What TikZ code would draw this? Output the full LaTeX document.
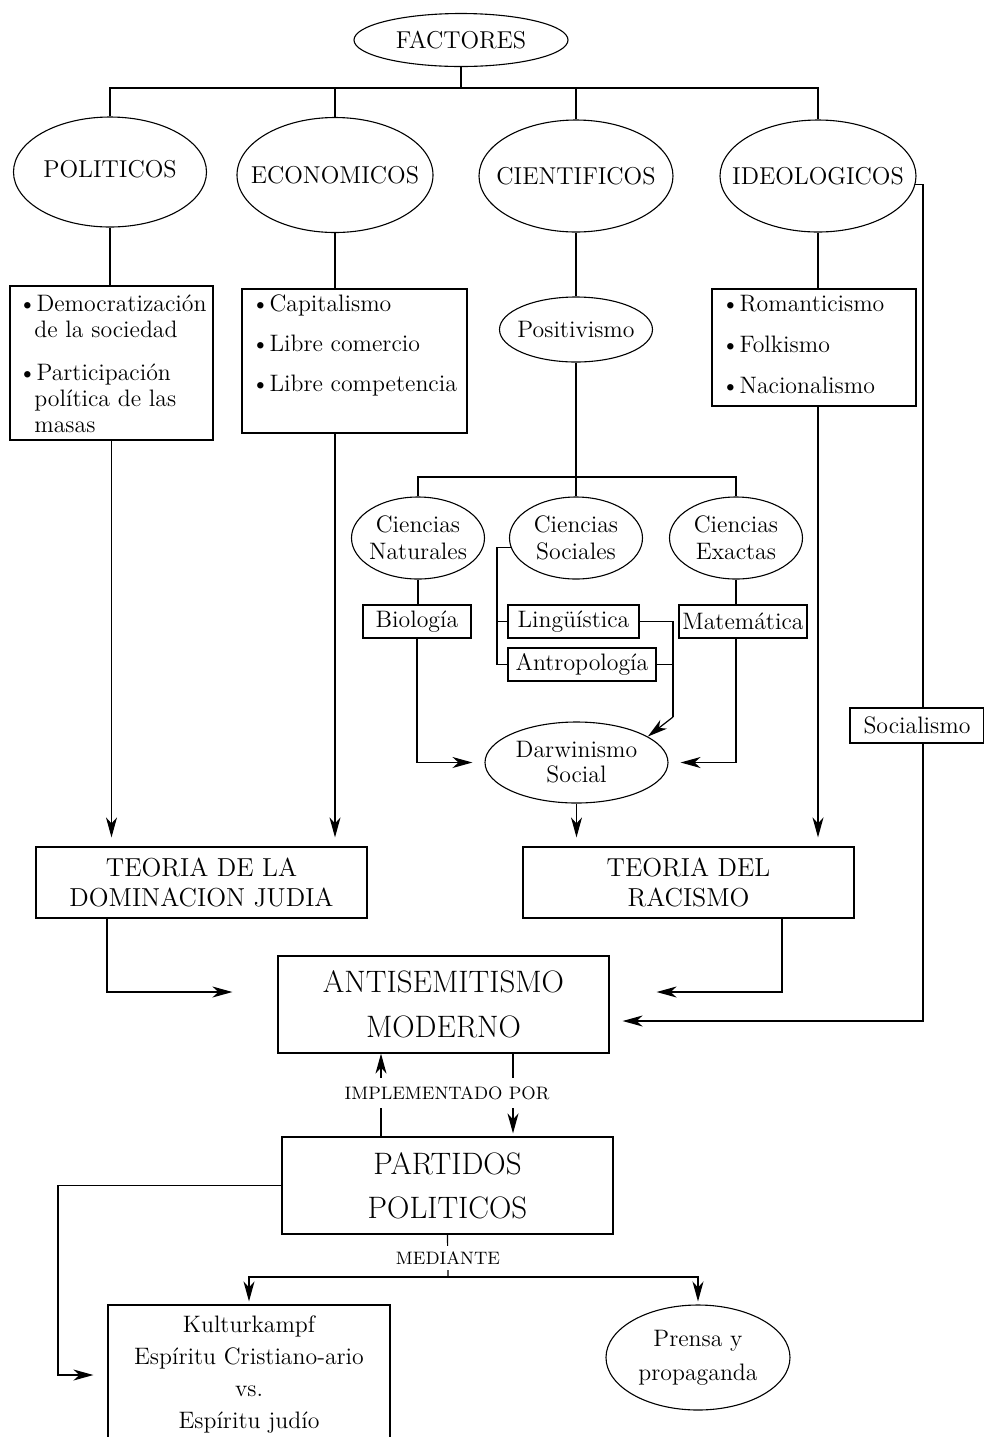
\documentclass[tikz,border=0pt]{standalone}
\usepackage{fontspec}
\usetikzlibrary{shapes.geometric,arrows.meta}
\begin{document}
\begin{tikzpicture}[x=0.5pt,y=-0.5pt,
  every node/.style={font=\fontsize{11.9}{13.5}\selectfont, inner sep=0pt},
  ell/.style={draw, ellipse, line width=0.55pt},
  etx/.style={align=center},
  bx/.style={draw, rectangle, line width=0.6pt, align=center},
  ttl/.style={font=\fontsize{12.2}{14}\selectfont},
  ln/.style={line width=0.6pt},
  arr/.style={-{Stealth[length=10pt,width=5.5pt,inset=3pt]}},
  lbl/.style={fill=white, font=\fontsize{9}{10}\selectfont, inner xsep=2pt, inner ysep=4pt},
  lst/.style={anchor=west, align=left}]
\useasboundingbox (0,0) rectangle (984,1437);
% top level
\node[ell, minimum width=107pt, minimum height=26.5pt] (fact) at (461,40) {};
\node[etx, ttl] (factt) at (fact) {FACTORES};
\node[ell, minimum width=96.5pt, minimum height=55pt] (pol) at (110,172) {};
\node[etx, ttl] (polt) at (110,169) {POLITICOS};
\node[ell, minimum width=98pt, minimum height=57.5pt] (eco) at (335,175) {};
\node[etx, ttl] (ecot) at (eco) {ECONOMICOS};
\node[ell, minimum width=97pt, minimum height=56pt] (cie) at (576,176) {};
\node[etx, ttl] (ciet) at (cie) {CIENTIFICOS};
\node[ell, minimum width=98pt, minimum height=56pt] (ide) at (818,176) {};
\node[etx, ttl] (idet) at (ide) {IDEOLOGICOS};
\coordinate (cbar) at (0,88);
\draw[ln] (fact.south) -- (fact.south |- cbar);
\draw[ln] (pol.north) -- (pol.north |- cbar) -- (ide.north |- cbar) -- (ide.north);
\draw[ln] (eco.north) -- (eco.north |- cbar);
\draw[ln] (cie.north) -- (cie.north |- cbar);
% boxes
\node[bx, minimum width=101.5pt, minimum height=77pt] (polbox) at (111.5,363) {};
\node[lst, font=\fontsize{11.9}{13}\selectfont] (poltx) at (18,364) {•Democratización\\\hspace*{8pt}de la sociedad\\[8.5pt]•Participación\\\hspace*{8pt}política de las\\\hspace*{8pt}masas};
\node[bx, minimum width=112.5pt, minimum height=72pt] (ecobox) at (354.5,361) {};
\node[lst, font=\fontsize{11.9}{20}\selectfont] (ecotx) at (251,345) {•Capitalismo\\•Libre comercio\\•Libre competencia};
\node[bx, minimum width=102pt, minimum height=58.5pt] (ideobox) at (814,347.5) {};
\node[lst, font=\fontsize{11.9}{20.5}\selectfont] (ideotx) at (721,344) {•Romanticismo\\•Folkismo\\•Nacionalismo};
\draw[ln] (pol.south) -- (pol.south |- polbox.north);
\draw[ln] (eco.south) -- (eco.south |- ecobox.north);
\draw[ln] (ide.south) -- (ide.south |- ideobox.north);
% sciences
\node[ell, minimum width=76.5pt, minimum height=32.5pt] (pos) at (576,329.5) {};
\node[etx] (post) at (pos) {Positivismo};
\draw[ln] (cie.south) -- (pos.north);
\node[ell, minimum width=66.5pt, minimum height=41pt] (nat) at (418,538) {};
\node[etx] (natt) at (nat) {Ciencias\\Naturales};
\node[ell, minimum width=66.5pt, minimum height=41pt] (soc) at (576,538) {};
\node[etx] (soct) at (soc) {Ciencias\\Sociales};
\node[ell, minimum width=66.5pt, minimum height=41pt] (exa) at (736,538) {};
\node[etx] (exat) at (exa) {Ciencias\\Exactas};
\coordinate (cb) at (0,477);
\draw[ln] (pos.south) -- (soc.north);
\draw[ln] (nat.north) -- (nat.north |- cb) -- (exa.north |- cb) -- (exa.north);
\node[bx, minimum width=54pt, minimum height=16.5pt] (bio) at (417,621.5) {Biología};
\node[bx, minimum width=65.5pt, minimum height=16.5pt] (ling) at (573.5,621.5) {Lingüística};
\node[bx, minimum width=74pt, minimum height=16.5pt] (antro) at (582,664.5) {Antropología};
\node[bx, minimum width=64pt, minimum height=16.5pt] (mate) at (743,621.5) {Matemática};
\draw[ln] (nat.south) -- (nat.south |- bio.north);
\draw[ln] (exa.south) -- (exa.south |- mate.north);
\coordinate (brk) at (497,545);
\draw[ln] (soc.188) -- (brk |- soc.188) |- (antro.west);
\draw[ln] (ling.west) -- (brk |- ling.west);
\node[ell, minimum width=91.5pt, minimum height=40.5pt] (dar) at (576.5,762.5) {};
\node[etx, font=\fontsize{11.9}{12.5}\selectfont] (dart) at (dar) {Darwinismo\\Social};
\coordinate (lj) at (673,717);
\draw[ln] (ling.east) -| (lj);
\draw[ln] (antro.east) -- (antro.east -| lj);
\draw[ln,arr] (lj) -- (dar.20);
\draw[ln,arr,shorten >=6pt] (bio.south) |- (dar.west);
\draw[ln,arr,shorten >=6pt] (exa.south |- mate.south) |- (dar.east);
% theories
\node[bx, minimum width=165.5pt, minimum height=35.5pt, font=\fontsize{13}{15}\selectfont] (dom) at (201.5,882.5) {TEORIA DE LA\\DOMINACION JUDIA};
\node[bx, minimum width=165.5pt, minimum height=35.5pt, font=\fontsize{13}{15}\selectfont] (rac) at (688.5,882.5) {TEORIA DEL\\RACISMO};
\draw[ln,arr,shorten >=4.5pt] (polbox.south) -- (polbox.south |- dom.north);
\draw[ln,arr,shorten >=4.5pt] (eco.south |- ecobox.south) -- (eco.south |- dom.north);
\draw[ln,arr,shorten >=4.5pt] (dar.south) -- (dar.south |- rac.north);
\draw[ln,arr,shorten >=4.5pt] (ide.south |- ideobox.south) -- (ide.south |- rac.north);
% socialismo
\coordinate (xs) at (923,0);
\node[bx, minimum width=67pt, minimum height=17.5pt] (socl) at (917,725.5) {Socialismo};
% antisemitismo
\node[bx, minimum width=165.5pt, minimum height=48.5pt, font=\fontsize{15.5}{22.5}\selectfont] (anti) at (443.5,1004.5) {ANTISEMITISMO\\MODERNO};
\coordinate (xd) at (107,0);
\coordinate (xr) at (782,0);
\draw[ln,arr,shorten >=22.5pt] (dom.south -| xd) |- ([yshift=6.25pt]anti.west);
\draw[ln,arr,shorten >=23.5pt] (rac.south -| xr) |- ([yshift=6.25pt]anti.east);
\draw[ln] (ide.-5) -| (socl.north -| xs);
\draw[ln,arr,shorten >=6.5pt] (socl.south -| xs) |- ([yshift=-8.25pt]anti.east);
% partidos
\node[bx, minimum width=165.5pt, minimum height=48.5pt, font=\fontsize{15.5}{22}\selectfont] (part) at (447.5,1185.5) {PARTIDOS\\POLITICOS};
\coordinate (xL) at (381,0);
\coordinate (xR) at (513,0);
\draw[ln,arr] (part.north -| xL) -- (anti.south -| xL);
\draw[ln,arr,shorten >=1.5pt] (anti.south -| xR) -- (part.north -| xR);
\node[lbl] (impl) at (447,1093) {IMPLEMENTADO POR};
% bottom
\node[bx, minimum width=141pt, minimum height=70pt, font=\fontsize{11.9}{16}\selectfont] (kul) at (249,1375) {Kulturkampf\\Espíritu Cristiano-ario\\vs.\\Espíritu judío};
\node[ell, minimum width=92pt, minimum height=52.5pt] (pren) at (698,1357.5) {};
\node[etx, font=\fontsize{11.9}{17}\selectfont] (prent) at (pren) {Prensa y\\propaganda};
\coordinate (mb) at (448,1277);
\coordinate (xk) at (58,0);
\draw[ln] (part.south) -- (mb);
\draw[ln,arr,shorten >=1.5pt] (mb) -| (kul.north);
\draw[ln,arr,shorten >=1.5pt] (mb) -| (pren.north);
\node[lbl, inner ysep=3pt] (med) at (448,1258) {MEDIANTE};
\draw[ln,arr,shorten >=7pt] (part.west) -| (xk |- kul.west) -- (kul.west);
\end{tikzpicture}
\end{document}
